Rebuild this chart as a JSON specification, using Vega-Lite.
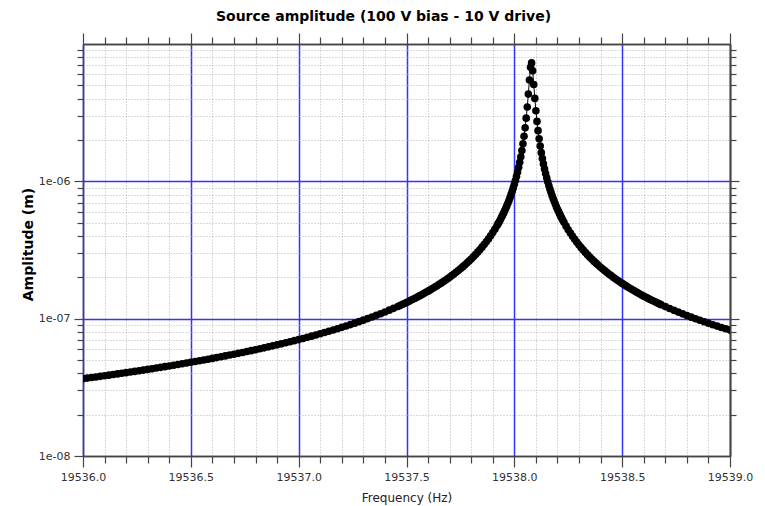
{
  "$schema": "https://vega.github.io/schema/vega-lite/v6.json",
  "width": 647,
  "height": 412,
  "autosize": {"type": "none"},
  "padding": {"left": 83, "top": 44, "right": 35, "bottom": 50},
  "background": "white",
  "title": {"text": "Source amplitude (100 V bias - 10 V drive)", "font": "DejaVu Sans", "fontSize": 14, "fontWeight": "bold", "color": "#000000", "offset": 8, "dx": -23},
  "config": {
    "view": {"stroke": null},
    "axis": {"labelFont": "DejaVu Sans", "labelFontSize": 11, "labelColor": "#333333", "domainColor": "#444444", "tickColor": "#444444", "domainWidth": 1.5, "tickWidth": 1.2, "titleFont": "DejaVu Sans", "labelFlush": false, "labelOverlap": false}
  },
  "data": {"values": [
    {"f":19536.00,"a":3.655e-8},{"f":19536.02,"a":3.691e-8},{"f":19536.04,"a":3.727e-8},{"f":19536.06,"a":3.764e-8},{"f":19536.08,"a":3.802e-8},
    {"f":19536.10,"a":3.840e-8},{"f":19536.12,"a":3.879e-8},{"f":19536.14,"a":3.919e-8},{"f":19536.16,"a":3.960e-8},{"f":19536.18,"a":4.002e-8},
    {"f":19536.20,"a":4.044e-8},{"f":19536.22,"a":4.088e-8},{"f":19536.24,"a":4.132e-8},{"f":19536.26,"a":4.178e-8},{"f":19536.28,"a":4.224e-8},
    {"f":19536.30,"a":4.272e-8},{"f":19536.32,"a":4.320e-8},{"f":19536.34,"a":4.370e-8},{"f":19536.36,"a":4.421e-8},{"f":19536.38,"a":4.473e-8},
    {"f":19536.40,"a":4.526e-8},{"f":19536.42,"a":4.581e-8},{"f":19536.44,"a":4.636e-8},{"f":19536.46,"a":4.694e-8},{"f":19536.48,"a":4.752e-8},
    {"f":19536.50,"a":4.813e-8},{"f":19536.52,"a":4.874e-8},{"f":19536.54,"a":4.938e-8},{"f":19536.56,"a":5.003e-8},{"f":19536.58,"a":5.069e-8},
    {"f":19536.60,"a":5.138e-8},{"f":19536.62,"a":5.208e-8},{"f":19536.64,"a":5.281e-8},{"f":19536.66,"a":5.355e-8},{"f":19536.68,"a":5.432e-8},
    {"f":19536.70,"a":5.510e-8},{"f":19536.72,"a":5.592e-8},{"f":19536.74,"a":5.675e-8},{"f":19536.76,"a":5.761e-8},{"f":19536.78,"a":5.850e-8},
    {"f":19536.80,"a":5.941e-8},{"f":19536.82,"a":6.036e-8},{"f":19536.84,"a":6.133e-8},{"f":19536.86,"a":6.234e-8},{"f":19536.88,"a":6.338e-8},
    {"f":19536.90,"a":6.445e-8},{"f":19536.92,"a":6.556e-8},{"f":19536.94,"a":6.671e-8},{"f":19536.96,"a":6.791e-8},{"f":19536.98,"a":6.914e-8},
    {"f":19537.00,"a":7.042e-8},{"f":19537.02,"a":7.175e-8},{"f":19537.04,"a":7.313e-8},{"f":19537.06,"a":7.457e-8},{"f":19537.08,"a":7.606e-8},
    {"f":19537.10,"a":7.761e-8},{"f":19537.12,"a":7.923e-8},{"f":19537.14,"a":8.092e-8},{"f":19537.16,"a":8.268e-8},{"f":19537.18,"a":8.452e-8},
    {"f":19537.20,"a":8.644e-8},{"f":19537.22,"a":8.845e-8},{"f":19537.24,"a":9.056e-8},{"f":19537.26,"a":9.277e-8},{"f":19537.28,"a":9.510e-8},
    {"f":19537.30,"a":9.754e-8},{"f":19537.32,"a":1.001e-7},{"f":19537.34,"a":1.028e-7},{"f":19537.36,"a":1.057e-7},{"f":19537.38,"a":1.087e-7},
    {"f":19537.40,"a":1.119e-7},{"f":19537.42,"a":1.153e-7},{"f":19537.44,"a":1.189e-7},{"f":19537.46,"a":1.227e-7},
    {"f":19537.47,"a":1.248e-7},{"f":19537.48,"a":1.268e-7},{"f":19537.49,"a":1.290e-7},{"f":19537.50,"a":1.312e-7},{"f":19537.51,"a":1.335e-7},
    {"f":19537.52,"a":1.359e-7},{"f":19537.53,"a":1.384e-7},{"f":19537.54,"a":1.409e-7},{"f":19537.55,"a":1.436e-7},{"f":19537.56,"a":1.464e-7},
    {"f":19537.57,"a":1.493e-7},{"f":19537.58,"a":1.522e-7},{"f":19537.59,"a":1.554e-7},{"f":19537.60,"a":1.586e-7},{"f":19537.61,"a":1.620e-7},
    {"f":19537.62,"a":1.655e-7},{"f":19537.63,"a":1.692e-7},{"f":19537.64,"a":1.730e-7},{"f":19537.65,"a":1.771e-7},{"f":19537.66,"a":1.813e-7},
    {"f":19537.67,"a":1.857e-7},{"f":19537.68,"a":1.904e-7},{"f":19537.69,"a":1.953e-7},{"f":19537.70,"a":2.004e-7},{"f":19537.71,"a":2.059e-7},
    {"f":19537.72,"a":2.116e-7},{"f":19537.73,"a":2.176e-7},{"f":19537.74,"a":2.241e-7},{"f":19537.75,"a":2.309e-7},{"f":19537.76,"a":2.381e-7},
    {"f":19537.77,"a":2.458e-7},{"f":19537.78,"a":2.540e-7},{"f":19537.79,"a":2.628e-7},{"f":19537.80,"a":2.722e-7},{"f":19537.81,"a":2.823e-7},
    {"f":19537.82,"a":2.932e-7},{"f":19537.83,"a":3.050e-7},{"f":19537.84,"a":3.177e-7},{"f":19537.85,"a":3.316e-7},{"f":19537.86,"a":3.467e-7},
    {"f":19537.87,"a":3.633e-7},{"f":19537.88,"a":3.810e-7},{"f":19537.89,"a":4.011e-7},{"f":19537.90,"a":4.234e-7},{"f":19537.91,"a":4.484e-7},
    {"f":19537.92,"a":4.764e-7},
    {"f":19537.925,"a":4.917e-7},{"f":19537.930,"a":5.081e-7},{"f":19537.935,"a":5.257e-7},{"f":19537.940,"a":5.445e-7},{"f":19537.945,"a":5.646e-7},
    {"f":19537.950,"a":5.863e-7},{"f":19537.955,"a":6.098e-7},{"f":19537.960,"a":6.352e-7},{"f":19537.965,"a":6.628e-7},{"f":19537.970,"a":6.928e-7},
    {"f":19537.975,"a":7.257e-7},{"f":19537.980,"a":7.620e-7},{"f":19537.985,"a":8.019e-7},{"f":19537.990,"a":8.462e-7},{"f":19537.995,"a":8.958e-7},
    {"f":19538.000,"a":9.514e-7},{"f":19538.005,"a":1.014e-6},{"f":19538.010,"a":1.086e-6},{"f":19538.015,"a":1.169e-6},{"f":19538.020,"a":1.264e-6},
    {"f":19538.025,"a":1.377e-6},{"f":19538.030,"a":1.511e-6},{"f":19538.035,"a":1.674e-6},{"f":19538.040,"a":1.874e-6},{"f":19538.045,"a":2.126e-6},
    {"f":19538.050,"a":2.452e-6},{"f":19538.055,"a":2.885e-6},{"f":19538.060,"a":3.480e-6},{"f":19538.065,"a":4.318e-6},{"f":19538.070,"a":5.474e-6},
    {"f":19538.075,"a":6.776e-6},{"f":19538.080,"a":7.286e-6},{"f":19538.085,"a":6.382e-6},{"f":19538.090,"a":5.069e-6},{"f":19538.095,"a":4.018e-6},
    {"f":19538.100,"a":3.268e-6},{"f":19538.105,"a":2.732e-6},{"f":19538.110,"a":2.338e-6},{"f":19538.115,"a":2.039e-6},{"f":19538.120,"a":1.805e-6},
    {"f":19538.125,"a":1.618e-6},{"f":19538.130,"a":1.466e-6},{"f":19538.135,"a":1.339e-6},{"f":19538.140,"a":1.232e-6},{"f":19538.145,"a":1.141e-6},
    {"f":19538.150,"a":1.062e-6},{"f":19538.155,"a":9.933e-7},{"f":19538.160,"a":9.329e-7},{"f":19538.165,"a":8.793e-7},{"f":19538.170,"a":8.316e-7},
    {"f":19538.175,"a":7.887e-7},{"f":19538.180,"a":7.500e-7},{"f":19538.185,"a":7.149e-7},{"f":19538.190,"a":6.829e-7},{"f":19538.195,"a":6.537e-7},
    {"f":19538.200,"a":6.268e-7},{"f":19538.205,"a":6.021e-7},{"f":19538.210,"a":5.792e-7},{"f":19538.215,"a":5.580e-7},{"f":19538.220,"a":5.383e-7},
    {"f":19538.225,"a":5.199e-7},{"f":19538.230,"a":5.028e-7},
    {"f":19538.24,"a":4.716e-7},{"f":19538.25,"a":4.441e-7},{"f":19538.26,"a":4.197e-7},{"f":19538.27,"a":3.977e-7},{"f":19538.28,"a":3.780e-7},
    {"f":19538.29,"a":3.601e-7},{"f":19538.30,"a":3.439e-7},{"f":19538.31,"a":3.290e-7},{"f":19538.32,"a":3.153e-7},{"f":19538.33,"a":3.028e-7},
    {"f":19538.34,"a":2.912e-7},{"f":19538.35,"a":2.805e-7},{"f":19538.36,"a":2.706e-7},{"f":19538.37,"a":2.612e-7},{"f":19538.38,"a":2.527e-7},
    {"f":19538.39,"a":2.445e-7},{"f":19538.40,"a":2.369e-7},{"f":19538.41,"a":2.297e-7},{"f":19538.42,"a":2.230e-7},{"f":19538.43,"a":2.166e-7},
    {"f":19538.44,"a":2.106e-7},{"f":19538.45,"a":2.050e-7},{"f":19538.46,"a":1.996e-7},{"f":19538.47,"a":1.945e-7},{"f":19538.48,"a":1.896e-7},
    {"f":19538.49,"a":1.850e-7},{"f":19538.50,"a":1.806e-7},{"f":19538.51,"a":1.764e-7},{"f":19538.52,"a":1.724e-7},{"f":19538.53,"a":1.686e-7},
    {"f":19538.54,"a":1.649e-7},{"f":19538.55,"a":1.614e-7},{"f":19538.56,"a":1.581e-7},{"f":19538.57,"a":1.548e-7},{"f":19538.58,"a":1.518e-7},
    {"f":19538.59,"a":1.488e-7},{"f":19538.60,"a":1.459e-7},{"f":19538.61,"a":1.432e-7},{"f":19538.62,"a":1.405e-7},{"f":19538.63,"a":1.380e-7},
    {"f":19538.64,"a":1.355e-7},{"f":19538.65,"a":1.331e-7},{"f":19538.66,"a":1.309e-7},{"f":19538.67,"a":1.286e-7},{"f":19538.68,"a":1.265e-7},
    {"f":19538.70,"a":1.224e-7},{"f":19538.72,"a":1.186e-7},{"f":19538.74,"a":1.150e-7},{"f":19538.76,"a":1.116e-7},{"f":19538.78,"a":1.084e-7},
    {"f":19538.80,"a":1.054e-7},{"f":19538.82,"a":1.026e-7},{"f":19538.84,"a":9.989e-8},{"f":19538.86,"a":9.734e-8},{"f":19538.88,"a":9.491e-8},
    {"f":19538.90,"a":9.259e-8},{"f":19538.92,"a":9.039e-8},{"f":19538.94,"a":8.829e-8},{"f":19538.96,"a":8.629e-8},{"f":19538.98,"a":8.437e-8},
    {"f":19539.00,"a":8.254e-8}
  ]},
  "resolve": {"axis": {"x": "independent", "y": "independent"}},
  "layer": [
    {
      "mark": {"type": "line", "color": "#000000", "strokeWidth": 1, "clip": true},
      "encoding": {
        "x": {"field": "f", "type": "quantitative",
          "scale": {"domain": [19536, 19539], "nice": false, "zero": false},
          "axis": {"orient": "bottom", "title": null, "labels": false, "domain": false, "tickSize": 7,
            "values": [19536.1,19536.2,19536.3,19536.4,19536.6,19536.7,19536.8,19536.9,19537.1,19537.2,19537.3,19537.4,19537.6,19537.7,19537.8,19537.9,19538.1,19538.2,19538.3,19538.4,19538.6,19538.7,19538.8,19538.9],
            "grid": true, "gridColor": "#b4b4b4", "gridDash": [1, 2], "gridWidth": 1}},
        "y": {"field": "a", "type": "quantitative",
          "scale": {"type": "log", "domain": [1e-8, 1e-5], "nice": false},
          "axis": {"orient": "left", "title": null, "labels": false, "domain": false, "tickSize": 6,
            "values": [2e-8,3e-8,4e-8,5e-8,6e-8,7e-8,8e-8,9e-8,2e-7,3e-7,4e-7,5e-7,6e-7,7e-7,8e-7,9e-7,2e-6,3e-6,4e-6,5e-6,6e-6,7e-6,8e-6,9e-6],
            "grid": true, "gridColor": "#b4b4b4", "gridDash": [1, 2], "gridWidth": 1}}
      }
    },
    {
      "mark": {"type": "point", "filled": true, "color": "#000000", "size": 58, "opacity": 1, "clip": true},
      "encoding": {
        "x": {"field": "f", "type": "quantitative",
          "axis": {"orient": "bottom", "values": [19536, 19536.5, 19537, 19537.5, 19538, 19538.5, 19539], "format": ".1f",
            "tickSize": 11, "labelPadding": 4, "grid": true, "gridColor": "#3333ff", "gridWidth": 1.5,
            "title": "Frequency (Hz)", "titleFontSize": 12, "titleFontWeight": "normal", "titleColor": "#222222",
            "titleY": 41, "titleBaseline": "middle"}},
        "y": {"field": "a", "type": "quantitative",
          "axis": {"orient": "left", "values": [1e-8, 1e-7, 1e-6],
            "labelExpr": "replace(format(datum.value, '.0e'), 'e-', 'e-0')",
            "tickSize": 9, "labelPadding": 4, "grid": true, "gridColor": "#3333ff", "gridWidth": 1.5,
            "title": "Amplitude (m)", "titleFontSize": 14, "titleFontWeight": "bold", "titleColor": "#000000",
            "titleAngle": -90, "titleX": -55, "titleY": 200, "titleBaseline": "middle", "titleAlign": "center"}}
      }
    },
    {
      "mark": {"type": "point", "opacity": 0},
      "encoding": {
        "x": {"field": "f", "type": "quantitative",
          "axis": {"orient": "top", "title": null, "labels": false, "grid": false, "tickSize": 7,
            "values": [19536.1,19536.2,19536.3,19536.4,19536.6,19536.7,19536.8,19536.9,19537.1,19537.2,19537.3,19537.4,19537.6,19537.7,19537.8,19537.9,19538.1,19538.2,19538.3,19538.4,19538.6,19538.7,19538.8,19538.9]}},
        "y": {"field": "a", "type": "quantitative",
          "axis": {"orient": "right", "title": null, "labels": false, "grid": false, "tickSize": 6,
            "values": [2e-8,3e-8,4e-8,5e-8,6e-8,7e-8,8e-8,9e-8,2e-7,3e-7,4e-7,5e-7,6e-7,7e-7,8e-7,9e-7,2e-6,3e-6,4e-6,5e-6,6e-6,7e-6,8e-6,9e-6]}}
      }
    },
    {
      "mark": {"type": "point", "opacity": 0},
      "encoding": {
        "x": {"field": "f", "type": "quantitative",
          "axis": {"orient": "top", "title": null, "labels": false, "grid": false, "tickSize": 11,
            "values": [19536, 19536.5, 19537, 19537.5, 19538, 19538.5, 19539]}},
        "y": {"field": "a", "type": "quantitative",
          "axis": {"orient": "right", "title": null, "labels": false, "grid": false, "tickSize": 9,
            "values": [1e-7, 1e-6]}}
      }
    }
  ]
}
